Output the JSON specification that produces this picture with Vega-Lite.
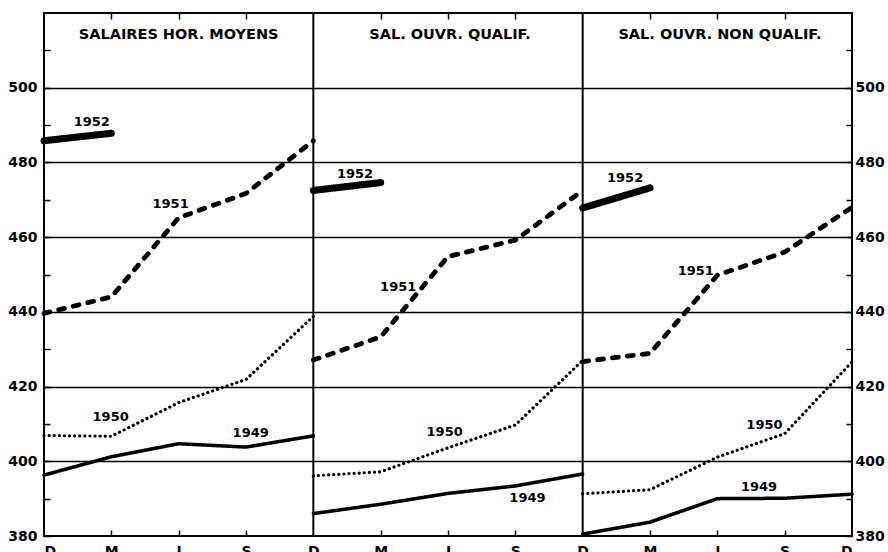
{
  "$schema": "https://vega.github.io/schema/vega-lite/v6.json",
  "width": 808,
  "height": 523,
  "padding": {"left": 5, "top": 12, "right": 5, "bottom": 5},
  "background": "white",
  "config": {
    "view": {"stroke": "black", "strokeWidth": 2},
    "font": "DejaVu Sans"
  },
  "datasets": {
    "lines": [
      {"s": "A1949", "year": "1949", "x": 0, "v": 396.3},
      {"s": "A1949", "year": "1949", "x": 1, "v": 401.2},
      {"s": "A1949", "year": "1949", "x": 2, "v": 404.7},
      {"s": "A1949", "year": "1949", "x": 3, "v": 403.8},
      {"s": "A1949", "year": "1949", "x": 4, "v": 406.8},
      {"s": "A1950", "year": "1950", "x": 0, "v": 406.9},
      {"s": "A1950", "year": "1950", "x": 1, "v": 406.7},
      {"s": "A1950", "year": "1950", "x": 2, "v": 415.7},
      {"s": "A1950", "year": "1950", "x": 3, "v": 421.9},
      {"s": "A1950", "year": "1950", "x": 4, "v": 438.8},
      {"s": "A1951", "year": "1951", "x": 0, "v": 439.6},
      {"s": "A1951", "year": "1951", "x": 1, "v": 444.0},
      {"s": "A1951", "year": "1951", "x": 2, "v": 465.2},
      {"s": "A1951", "year": "1951", "x": 3, "v": 471.7},
      {"s": "A1951", "year": "1951", "x": 4, "v": 485.8},
      {"s": "A1952", "year": "1952", "x": 0, "v": 485.8},
      {"s": "A1952", "year": "1952", "x": 1, "v": 487.8},
      {"s": "B1949", "year": "1949", "x": 4, "v": 386.0},
      {"s": "B1949", "year": "1949", "x": 5, "v": 388.5},
      {"s": "B1949", "year": "1949", "x": 6, "v": 391.4},
      {"s": "B1949", "year": "1949", "x": 7, "v": 393.4},
      {"s": "B1949", "year": "1949", "x": 8, "v": 396.6},
      {"s": "B1950", "year": "1950", "x": 4, "v": 396.1},
      {"s": "B1950", "year": "1950", "x": 5, "v": 397.2},
      {"s": "B1950", "year": "1950", "x": 6, "v": 403.6},
      {"s": "B1950", "year": "1950", "x": 7, "v": 409.7},
      {"s": "B1950", "year": "1950", "x": 8, "v": 427.0},
      {"s": "B1951", "year": "1951", "x": 4, "v": 427.1},
      {"s": "B1951", "year": "1951", "x": 5, "v": 433.3},
      {"s": "B1951", "year": "1951", "x": 6, "v": 454.8},
      {"s": "B1951", "year": "1951", "x": 7, "v": 459.2},
      {"s": "B1951", "year": "1951", "x": 8, "v": 472.5},
      {"s": "B1952", "year": "1952", "x": 4, "v": 472.5},
      {"s": "B1952", "year": "1952", "x": 5, "v": 474.6},
      {"s": "C1949", "year": "1949", "x": 8, "v": 380.5},
      {"s": "C1949", "year": "1949", "x": 9, "v": 383.7},
      {"s": "C1949", "year": "1949", "x": 10, "v": 390.0},
      {"s": "C1949", "year": "1949", "x": 11, "v": 390.1},
      {"s": "C1949", "year": "1949", "x": 12, "v": 391.2},
      {"s": "C1950", "year": "1950", "x": 8, "v": 391.3},
      {"s": "C1950", "year": "1950", "x": 9, "v": 392.4},
      {"s": "C1950", "year": "1950", "x": 10, "v": 401.1},
      {"s": "C1950", "year": "1950", "x": 11, "v": 407.4},
      {"s": "C1950", "year": "1950", "x": 12, "v": 426.6},
      {"s": "C1951", "year": "1951", "x": 8, "v": 426.7},
      {"s": "C1951", "year": "1951", "x": 9, "v": 428.9},
      {"s": "C1951", "year": "1951", "x": 10, "v": 449.8},
      {"s": "C1951", "year": "1951", "x": 11, "v": 456.0},
      {"s": "C1951", "year": "1951", "x": 12, "v": 468.0},
      {"s": "C1952", "year": "1952", "x": 8, "v": 467.8},
      {"s": "C1952", "year": "1952", "x": 9, "v": 473.2}
    ],
    "separators": [{"x": 4}, {"x": 8}],
    "titles": [
      {"x": 2, "v": 514.1, "t": "SALAIRES HOR. MOYENS"},
      {"x": 6.03, "v": 514.1, "t": "SAL. OUVR. QUALIF."},
      {"x": 10.04, "v": 514.1, "t": "SAL. OUVR. NON QUALIF."}
    ],
    "yearLabels": [
      {"x": 0.71, "v": 490.7, "t": "1952"},
      {"x": 1.88, "v": 468.9, "t": "1951"},
      {"x": 0.99, "v": 411.8, "t": "1950"},
      {"x": 3.07, "v": 407.6, "t": "1949"},
      {"x": 4.62, "v": 477.0, "t": "1952"},
      {"x": 5.26, "v": 446.7, "t": "1951"},
      {"x": 5.95, "v": 407.8, "t": "1950"},
      {"x": 7.18, "v": 390.2, "t": "1949"},
      {"x": 8.63, "v": 475.8, "t": "1952"},
      {"x": 9.68, "v": 450.9, "t": "1951"},
      {"x": 10.70, "v": 409.7, "t": "1950"},
      {"x": 10.62, "v": 393.2, "t": "1949"}
    ]
  },
  "layer": [
    {
      "layer": [
        {
          "data": {"name": "separators"},
          "mark": {"type": "rule", "color": "black", "strokeWidth": 2},
          "encoding": {
            "x": {"field": "x", "type": "quantitative", "scale": {"domain": [0, 12], "nice": false, "zero": false},
              "axis": {"orient": "bottom", "values": [0,1,2,3,4,5,6,7,8,9,10,11,12], "labelExpr": "['D','M','J','S'][datum.value % 4]", "domain": false, "grid": false, "tickSize": -6, "tickWidth": 1.5, "tickColor": "black", "tickOpacity": {"condition": {"test": "datum.value % 4 == 0", "value": 0}, "value": 1}, "labelFont": "DejaVu Sans", "labelFontWeight": "bold", "labelFontSize": 14, "labelColor": "black", "labelPadding": 14, "title": null}}
          }
        },
        {
          "data": {"name": "lines"},
          "mark": {"type": "line", "color": "black", "strokeCap": "round", "strokeJoin": "round"},
          "encoding": {
            "x": {"field": "x", "type": "quantitative"},
            "y": {"field": "v", "type": "quantitative", "scale": {"domain": [380, 520], "nice": false, "zero": false},
              "axis": {"orient": "left", "values": [380,390,400,410,420,430,440,450,460,470,480,490,500,510], "labelExpr": "datum.value % 20 == 0 ? datum.label : ''", "domain": false, "grid": true, "gridColor": "black", "gridWidth": 1.6, "gridOpacity": {"condition": {"test": "datum.value % 20 == 0 && datum.value > 380", "value": 1}, "value": 0}, "tickSize": -6, "tickWidth": 1.5, "tickColor": "black", "labelFont": "DejaVu Sans", "labelFontWeight": "bold", "labelFontSize": 14, "labelColor": "black", "labelPadding": 13, "minExtent": 39, "maxExtent": 39, "title": null}},
            "detail": {"field": "s"},
            "strokeDash": {"field": "year", "type": "nominal", "scale": {"type": "ordinal", "domain": ["1949", "1950", "1951", "1952"], "range": [[1, 0], [0.1, 5], [6, 9], [1, 0]]}, "legend": null},
            "strokeWidth": {"field": "year", "type": "nominal", "scale": {"type": "ordinal", "domain": ["1949", "1950", "1951", "1952"], "range": [3.5, 3.2, 4.8, 7]}, "legend": null}
          }
        }
      ]
    },
    {
      "layer": [
        {
          "data": {"name": "titles"},
          "mark": {"type": "text", "font": "DejaVu Sans", "fontWeight": "bold", "fontSize": 14.5, "color": "black", "align": "center", "baseline": "middle"},
          "encoding": {
            "x": {"field": "x", "type": "quantitative", "scale": {"domain": [0, 12], "nice": false, "zero": false},
              "axis": {"orient": "top", "values": [0,1,2,3,4,5,6,7,8,9,10,11,12], "labels": false, "domain": false, "grid": false, "tickSize": -6, "tickWidth": 1.5, "tickColor": "black", "tickOpacity": {"condition": {"test": "datum.value % 4 == 0", "value": 0}, "value": 1}, "title": null}},
            "y": {"field": "v", "type": "quantitative", "scale": {"domain": [380, 520], "nice": false, "zero": false},
              "axis": {"orient": "right", "values": [380,390,400,410,420,430,440,450,460,470,480,490,500,510], "labelExpr": "datum.value % 20 == 0 ? datum.label : ''", "domain": false, "grid": false, "tickSize": -6, "tickWidth": 1.5, "tickColor": "black", "labelFont": "DejaVu Sans", "labelFontWeight": "bold", "labelFontSize": 14, "labelColor": "black", "labelPadding": 9, "title": null}},
            "text": {"field": "t"}
          }
        },
        {
          "data": {"name": "yearLabels"},
          "mark": {"type": "text", "font": "DejaVu Sans", "fontWeight": "bold", "fontSize": 13, "color": "black", "align": "center", "baseline": "middle"},
          "encoding": {
            "x": {"field": "x", "type": "quantitative"},
            "y": {"field": "v", "type": "quantitative"},
            "text": {"field": "t"}
          }
        }
      ]
    }
  ],
  "resolve": {"scale": {"x": "independent", "y": "independent"}}
}
